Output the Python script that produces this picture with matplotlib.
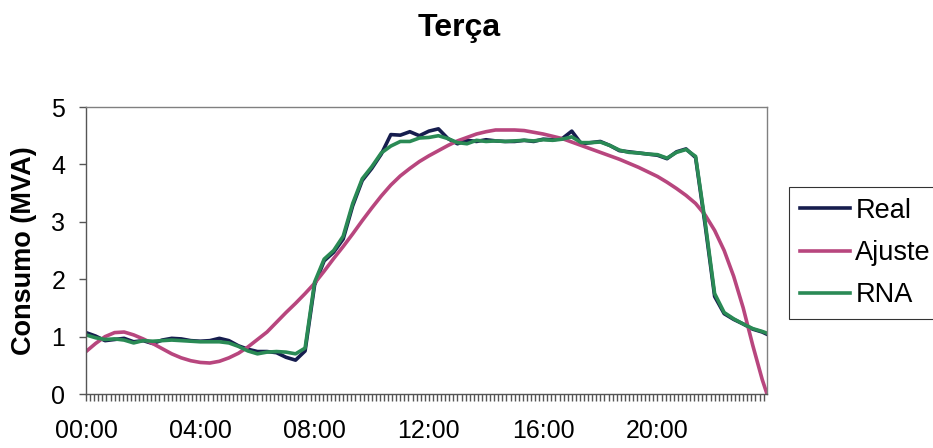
import numpy as np
import matplotlib
matplotlib.use('Agg')
import matplotlib.pyplot as plt
from matplotlib.ticker import MultipleLocator

plt.rcParams['font.family'] = ['Liberation Sans', 'DejaVu Sans']

# leituras a cada 20 min, ultima leitura as 23:50
horas = np.append(np.arange(72) / 3, 23 + 50 / 60)

real = [1.07, 1.01, 0.93, 0.95, 0.97, 0.91, 0.93, 0.88, 0.94, 0.97, 0.96, 0.93,
        0.92, 0.93, 0.97, 0.93, 0.84, 0.78, 0.74, 0.74, 0.72, 0.64, 0.59, 0.75,
        1.90, 2.32, 2.47, 2.70, 3.28, 3.72, 3.93, 4.18, 4.52, 4.51, 4.57, 4.50,
        4.58, 4.62, 4.45, 4.36, 4.42, 4.40, 4.43, 4.41, 4.40, 4.40, 4.42, 4.40,
        4.44, 4.43, 4.45, 4.58, 4.36, 4.38, 4.40, 4.33, 4.24, 4.22, 4.20, 4.18,
        4.16, 4.10, 4.22, 4.27, 4.12, 2.95, 1.70, 1.40, 1.30, 1.22, 1.13, 1.08,
        1.04]

rna = [1.03, 0.98, 0.95, 0.96, 0.94, 0.89, 0.93, 0.92, 0.93, 0.94, 0.93, 0.92,
       0.91, 0.91, 0.91, 0.89, 0.83, 0.75, 0.70, 0.73, 0.74, 0.73, 0.70, 0.80,
       1.95, 2.35, 2.50, 2.75, 3.32, 3.75, 3.96, 4.20, 4.32, 4.40, 4.40, 4.46,
       4.47, 4.50, 4.45, 4.38, 4.36, 4.42, 4.40, 4.41, 4.40, 4.41, 4.42, 4.41,
       4.43, 4.42, 4.44, 4.48, 4.38, 4.38, 4.39, 4.33, 4.25, 4.21, 4.20, 4.18,
       4.17, 4.11, 4.21, 4.26, 4.14, 3.00, 1.75, 1.42, 1.31, 1.22, 1.14, 1.09,
       1.06]

ajuste = [0.74, 0.88, 1.00, 1.07, 1.08, 1.03, 0.96, 0.88, 0.79, 0.70, 0.63, 0.58,
          0.55, 0.54, 0.57, 0.63, 0.71, 0.82, 0.95, 1.08, 1.25, 1.42, 1.58, 1.75,
          1.93, 2.14, 2.36, 2.57, 2.79, 3.02, 3.24, 3.45, 3.64, 3.80, 3.93, 4.05,
          4.15, 4.24, 4.33, 4.41, 4.47, 4.53, 4.57, 4.60, 4.60, 4.60, 4.59, 4.56,
          4.53, 4.49, 4.45, 4.39, 4.33, 4.27, 4.21, 4.15, 4.09, 4.02, 3.95, 3.87,
          3.79, 3.69, 3.58, 3.46, 3.32, 3.12, 2.85, 2.50, 2.05, 1.50, 0.85, 0.25,
          0.00]

tick_horas = [0, 4, 8, 12, 16, 20]
tick_labels = ['00:00', '04:00', '08:00', '12:00', '16:00', '20:00']

fig = plt.figure(figsize=(9.33, 4.48), dpi=100)
ax = fig.add_axes([0.0922, 0.1205, 0.7299, 0.6406])

ax.plot(horas, real, color='#161d4e', lw=2.6, label='Real')
ax.plot(horas, ajuste, color='#b8467e', lw=2.6, label='Ajuste')
ax.plot(horas, rna, color='#2a8a55', lw=2.6, label='RNA')

ax.set_xlim(0, horas[-1])
ax.set_ylim(0, 5)
ax.set_xticks(tick_horas)
ax.set_xticklabels(tick_labels)
ax.xaxis.set_minor_locator(MultipleLocator(1 / 7))
ax.set_yticks(range(6))
ax.tick_params(axis='x', which='both', direction='out', length=5, width=1,
               color='#555555', labelsize=18, pad=13)
ax.tick_params(axis='y', direction='out', length=5, width=1,
               color='#555555', labelsize=18, pad=10)
for s in ax.spines.values():
    s.set_color('#808080')
    s.set_linewidth(1)
ax.spines['left'].set_color('#555555')
ax.spines['bottom'].set_color('#555555')

ax.set_ylabel('Consumo (MVA)', fontsize=19.5, fontweight='bold', labelpad=10)
fig.text(0.492, 0.938, 'Terça', fontsize=23, fontweight='bold',
         ha='center', va='center')

leg = fig.legend(loc='upper left', bbox_to_anchor=(0.8457, 0.5826),
                 fontsize=19.5, frameon=True, fancybox=False, handlelength=1.85,
                 handletextpad=0.2, labelspacing=0.6, borderpad=0.4,
                 borderaxespad=0)
leg.get_frame().set_edgecolor('black')
leg.get_frame().set_linewidth(0.8)

fig.savefig('out.png', dpi=100)
